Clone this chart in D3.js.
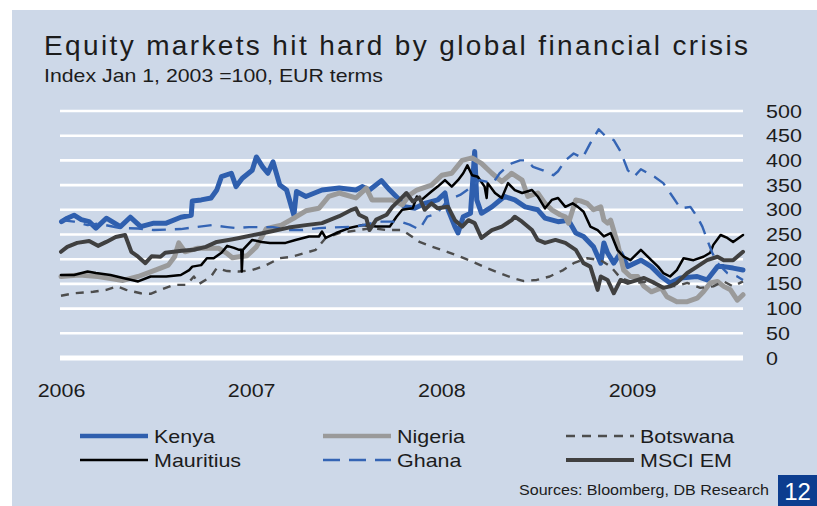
<!DOCTYPE html>
<html><head><meta charset="utf-8">
<script src="https://cdn.jsdelivr.net/npm/d3@7"></script>
<style>
body{margin:0;background:#fff}
svg{display:block}
text{font-family:"Liberation Sans",Arial,Helvetica,sans-serif;fill:#1c1c1c}
</style>
</head><body>
<svg id="chart" width="817" height="506"></svg>
<script>
// ---------------- DATA ----------------
const title = "Equity markets hit hard by global financial crisis";
const subtitle = "Index Jan 1, 2003 =100, EUR terms";
const source = "Sources: Bloomberg, DB Research";
const pageNumber = "12";
const yTicks = [0,50,100,150,200,250,300,350,400,450,500];
const yearLabels = ["2006","2007","2008","2009"];
const seriesNames = ["Kenya","Nigeria","Botswana","Mauritius","Ghana","MSCI EM"];

const kenya = [["2006-01-02",276],["2006-01-13",283],["2006-01-26",289],["2006-02-09",280],["2006-02-24",276],["2006-03-09",263],["2006-03-29",283],["2006-04-25",266],["2006-05-14",285],["2006-06-03",266],["2006-06-28",273],["2006-07-22",273],["2006-08-19",285],["2006-09-08",289],["2006-09-10",318],["2006-09-27",320],["2006-10-16",324],["2006-10-27",340],["2006-11-05",367],["2006-11-24",374],["2006-12-03",347],["2006-12-15",364],["2007-01-03",380],["2007-01-11",407],["2007-01-23",387],["2007-02-02",374],["2007-02-12",397],["2007-02-25",350],["2007-03-10",340],["2007-03-24",289],["2007-03-29",337],["2007-04-16",327],["2007-05-17",340],["2007-06-19",344],["2007-07-21",340],["2007-08-02",347],["2007-08-16",340],["2007-09-08",359],["2007-09-24",340],["2007-10-13",320],["2007-10-22",306],["2007-11-11",303],["2007-11-30",313],["2007-12-25",320],["2008-01-08",334],["2008-01-14",300],["2008-01-27",266],["2008-02-02",253],["2008-02-12",286],["2008-02-26",293],["2008-03-05",418],["2008-03-09",320],["2008-03-18",293],["2008-04-07",306],["2008-05-01",327],["2008-05-21",320],["2008-06-10",306],["2008-07-04",300],["2008-07-18",283],["2008-08-12",276],["2008-09-01",279],["2008-09-15",253],["2008-09-30",246],["2008-10-19",225],["2008-11-02",192],["2008-11-08",233],["2008-11-15",213],["2008-11-27",192],["2008-12-10",213],["2008-12-24",185],["2009-01-18",198],["2009-02-07",185],["2009-02-26",165],["2009-03-15",152],["2009-04-04",162],["2009-05-06",165],["2009-05-25",158],["2009-06-14",185],["2009-06-26",185],["2009-07-14",182],["2009-08-02",178]];

const nigeria = [["2006-01-01",165],["2006-02-05",168],["2006-03-13",165],["2006-04-12",160],["2006-04-30",157],["2006-05-29",165],["2006-07-01",178],["2006-07-26",188],["2006-08-07",205],["2006-08-15",233],["2006-08-27",215],["2006-09-19",222],["2006-10-12",222],["2006-10-31",222],["2006-11-14",213],["2006-11-26",203],["2006-12-09",205],["2006-12-24",207],["2007-01-11",225],["2007-01-30",262],["2007-02-15",266],["2007-02-28",269],["2007-03-27",285],["2007-04-16",298],["2007-05-11",303],["2007-05-30",327],["2007-06-19",334],["2007-07-02",330],["2007-07-21",324],["2007-08-10",344],["2007-08-21",320],["2007-09-04",320],["2007-09-29",320],["2007-10-18",310],["2007-11-01",330],["2007-11-15",340],["2007-12-13",350],["2008-01-02",370],["2008-01-21",374],["2008-02-10",400],["2008-02-29",405],["2008-03-18",394],["2008-04-07",374],["2008-04-26",357],["2008-05-15",374],["2008-06-04",360],["2008-06-15",327],["2008-07-04",334],["2008-07-18",313],["2008-07-31",300],["2008-08-16",290],["2008-08-26",286],["2008-09-01",273],["2008-09-15",320],["2008-09-24",318],["2008-10-07",313],["2008-10-19",300],["2008-11-02",306],["2008-11-08",279],["2008-11-15",273],["2008-11-21",279],["2008-12-04",233],["2008-12-16",178],["2008-12-29",165],["2009-01-12",165],["2009-01-24",145],["2009-02-07",134],["2009-02-26",142],["2009-03-09",124],["2009-03-28",114],["2009-04-17",114],["2009-05-06",121],["2009-05-18",134],["2009-05-31",152],["2009-06-14",155],["2009-06-26",145],["2009-07-09",138],["2009-07-22",117],["2009-08-02",128]];

const botswana = [["2006-01-01",126],["2006-01-26",131],["2006-03-04",134],["2006-03-29",138],["2006-04-18",145],["2006-05-06",138],["2006-06-03",131],["2006-06-22",130],["2006-07-11",138],["2006-08-05",148],["2006-08-30",148],["2006-09-13",165],["2006-09-23",150],["2006-10-16",165],["2006-10-27",182],["2006-11-16",176],["2006-12-09",175],["2007-01-03",178],["2007-01-30",188],["2007-02-25",202],["2007-03-20",205],["2007-04-16",213],["2007-05-05",219],["2007-05-24",243],["2007-06-19",253],["2007-07-27",259],["2007-08-21",263],["2007-09-18",259],["2007-10-18",259],["2007-11-01",249],["2007-11-20",235],["2007-12-15",225],["2008-01-12",215],["2008-02-06",205],["2008-03-01",195],["2008-03-28",182],["2008-04-22",172],["2008-05-17",162],["2008-06-06",156],["2008-07-02",158],["2008-07-27",165],["2008-08-22",178],["2008-09-11",192],["2008-10-07",202],["2008-11-02",198],["2008-11-21",185],["2008-12-10",162],["2009-01-05",152],["2009-01-31",155],["2009-03-02",145],["2009-03-28",146],["2009-04-17",152],["2009-05-12",142],["2009-06-06",145],["2009-06-26",155],["2009-07-14",145],["2009-08-02",155]];

const mauritius = [["2006-01-01",168],["2006-01-26",168],["2006-02-21",175],["2006-03-09",172],["2006-04-06",168],["2006-04-30",162],["2006-05-29",155],["2006-06-22",165],["2006-07-22",165],["2006-08-19",168],["2006-09-04",178],["2006-09-10",185],["2006-09-27",188],["2006-10-08",202],["2006-10-21",202],["2006-11-05",213],["2006-11-16",227],["2006-11-29",223],["2006-12-09",219],["2006-12-13",219],["2006-12-14",175],["2006-12-16",219],["2007-01-03",239],["2007-01-21",235],["2007-02-06",233],["2007-03-08",233],["2007-03-27",239],["2007-04-22",246],["2007-05-11",246],["2007-05-17",256],["2007-05-24",243],["2007-06-13",253],["2007-07-08",263],["2007-08-02",269],["2007-08-29",266],["2007-09-24",266],["2007-10-07",286],["2007-10-18",300],["2007-11-07",303],["2007-11-15",327],["2007-11-24",320],["2007-12-13",337],["2007-12-25",347],["2008-01-08",360],["2008-01-21",347],["2008-02-02",360],["2008-02-12",374],["2008-02-20",390],["2008-02-29",370],["2008-03-11",367],["2008-03-24",347],["2008-03-28",324],["2008-03-30",354],["2008-04-13",334],["2008-04-26",324],["2008-05-08",354],["2008-05-21",340],["2008-06-04",334],["2008-06-23",340],["2008-07-04",327],["2008-07-18",303],["2008-07-31",320],["2008-08-12",324],["2008-08-26",306],["2008-09-09",313],["2008-09-19",306],["2008-09-30",296],["2008-10-13",266],["2008-10-27",259],["2008-11-08",246],["2008-11-21",253],["2008-12-04",219],["2008-12-16",205],["2008-12-29",198],["2009-01-18",219],["2009-02-07",198],["2009-02-20",185],["2009-03-02",172],["2009-03-15",165],["2009-03-28",178],["2009-04-10",202],["2009-04-29",198],["2009-05-18",205],["2009-05-31",213],["2009-06-06",229],["2009-06-20",249],["2009-07-03",243],["2009-07-14",235],["2009-08-02",249]];

const ghana = [["2006-01-01",279],["2006-01-26",276],["2006-02-21",269],["2006-03-13",272],["2006-04-25",263],["2006-05-29",262],["2006-06-28",259],["2006-08-19",261],["2006-10-02",267],["2006-10-18",269],["2006-11-16",265],["2006-12-03",263],["2006-12-28",265],["2007-01-17",265],["2007-02-12",265],["2007-03-14",259],["2007-04-09",259],["2007-05-11",263],["2007-06-25",265],["2007-07-21",266],["2007-09-04",276],["2007-09-29",276],["2007-10-18",275],["2007-11-01",270],["2007-11-20",260],["2007-12-05",286],["2007-12-23",292],["2008-01-14",320],["2008-02-06",330],["2008-02-26",345],["2008-03-14",360],["2008-04-09",354],["2008-04-22",374],["2008-05-06",387],["2008-05-15",394],["2008-05-31",400],["2008-06-13",400],["2008-06-25",387],["2008-07-14",380],["2008-08-03",370],["2008-08-12",378],["2008-08-26",400],["2008-09-11",414],["2008-09-28",405],["2008-10-13",435],["2008-10-29",463],["2008-11-12",448],["2008-11-27",441],["2008-12-10",418],["2008-12-24",380],["2009-01-05",367],["2009-01-18",382],["2009-02-13",367],["2009-03-02",354],["2009-03-21",325],["2009-04-04",303],["2009-04-23",306],["2009-05-06",286],["2009-05-16",266],["2009-05-25",240],["2009-06-04",213],["2009-06-14",192],["2009-07-03",172],["2009-07-22",165],["2009-08-02",158]];

const msciEM = [["2006-01-01",215],["2006-01-13",225],["2006-02-01",233],["2006-02-24",237],["2006-03-13",227],["2006-03-29",235],["2006-04-16",245],["2006-05-04",249],["2006-05-16",215],["2006-05-29",205],["2006-06-12",192],["2006-06-24",206],["2006-07-11",205],["2006-07-20",213],["2006-08-05",215],["2006-08-21",217],["2006-09-13",219],["2006-10-06",225],["2006-10-27",235],["2006-11-24",240],["2006-12-09",243],["2007-01-11",250],["2007-02-12",257],["2007-03-14",264],["2007-04-16",269],["2007-05-17",273],["2007-06-19",287],["2007-07-13",300],["2007-07-21",303],["2007-07-27",290],["2007-08-10",283],["2007-08-16",259],["2007-08-29",280],["2007-09-18",290],["2007-09-29",306],["2007-10-13",320],["2007-10-26",334],["2007-11-07",317],["2007-11-20",325],["2007-11-30",300],["2007-12-13",313],["2007-12-25",303],["2008-01-14",306],["2008-01-27",279],["2008-02-10",266],["2008-02-22",279],["2008-03-05",273],["2008-03-18",243],["2008-04-07",259],["2008-04-26",266],["2008-05-15",279],["2008-05-21",286],["2008-06-04",276],["2008-06-23",259],["2008-07-04",239],["2008-07-18",233],["2008-08-07",239],["2008-08-26",233],["2008-09-15",219],["2008-09-30",192],["2008-10-13",185],["2008-10-27",138],["2008-11-02",165],["2008-11-15",158],["2008-11-27",131],["2008-12-10",158],["2008-12-24",152],["2009-01-12",158],["2009-01-24",162],["2009-02-13",152],["2009-03-02",142],["2009-03-15",145],["2009-03-28",152],["2009-04-17",172],["2009-05-06",185],["2009-05-25",198],["2009-06-14",205],["2009-06-26",198],["2009-07-14",198],["2009-08-02",215]];

// ---------------- STYLES ----------------
const seriesData = {"Kenya":kenya,"Nigeria":nigeria,"Botswana":botswana,"Mauritius":mauritius,"Ghana":ghana,"MSCI EM":msciEM};
const styles = {
  "Kenya":    {color:"#2f5fae", width:5,   dash:null},
  "Nigeria":  {color:"#9a9a9a", width:5,   dash:null},
  "Botswana": {color:"#4d4d4d", width:2.4, dash:"8,7"},
  "Mauritius":{color:"#000000", width:2.5, dash:null},
  "Ghana":    {color:"#3464b4", width:2.4, dash:"14,9"},
  "MSCI EM":  {color:"#404040", width:4,   dash:null}
};
const legendDash = {"Botswana":"9,7","Ghana":"17,9"};

// ---------------- DRAW ----------------
const W = 817, H = 506, STRETCH = 1.13;
const svg = d3.select("#chart");
const parse = d3.timeParse("%Y-%m-%d");

function stretch(sel, f){
  sel.each(function(){
    const L = this.getComputedTextLength();
    this.setAttribute("textLength", L*f);
    this.setAttribute("lengthAdjust","spacingAndGlyphs");
  });
}

svg.append("rect").attr("x",12).attr("y",10).attr("width",W-12).attr("height",H-10).attr("fill","#cdd8e8");

const x = d3.scaleTime().domain([parse("2006-01-01"), parse("2009-08-02")]).range([61,743]);
const y = d3.scaleLinear().domain([0,500]).range([358,111]);

// gridlines
svg.append("g").selectAll("line").data(yTicks).join("line")
  .attr("x1",60).attr("x2",743)
  .attr("y1",d=>y(d)).attr("y2",d=>y(d))
  .attr("stroke","#ffffff").attr("stroke-width",d=>d===0?5:2.6);

// y axis labels (right)
const yAxis = svg.append("g").attr("transform","translate(766,0)")
  .call(d3.axisRight(y).tickValues(yTicks).tickSize(0).tickPadding(0).tickFormat(d3.format("d")));
yAxis.select(".domain").remove();
yAxis.selectAll("text").attr("font-size",19).attr("fill","#1c1c1c")
  .style("font-family",'"Liberation Sans",Arial,sans-serif');
stretch(yAxis.selectAll("text"), STRETCH);

// x axis labels
const xAxis = svg.append("g").attr("transform","translate(0,383)")
  .call(d3.axisBottom(x).tickValues(yearLabels.map(s=>parse(s+"-01-01"))).tickSize(0).tickPadding(0).tickFormat(d3.timeFormat("%Y")));
xAxis.select(".domain").remove();
xAxis.selectAll("text").attr("font-size",19).attr("fill","#1c1c1c")
  .style("font-family",'"Liberation Sans",Arial,sans-serif');
stretch(xAxis.selectAll("text"), STRETCH);

// lines
const line = d3.line().x(d=>x(parse(d[0]))).y(d=>y(d[1]));
const lines = svg.append("g");
seriesNames.forEach(name=>{
  const s = styles[name];
  lines.append("path").datum(seriesData[name])
    .attr("d",line).attr("fill","none")
    .attr("stroke",s.color).attr("stroke-width",s.width)
    .attr("stroke-linejoin","round").attr("stroke-linecap", s.dash ? "butt" : "round")
    .attr("stroke-dasharray",s.dash);
});

// title & subtitle
svg.append("text").attr("x",44).attr("y",55).attr("font-size",28)
  .attr("textLength",704).attr("lengthAdjust","spacing").attr("fill","#222").text(title);
svg.append("text").attr("x",44).attr("y",81.5).attr("font-size",19)
  .attr("textLength",339).attr("lengthAdjust","spacingAndGlyphs").attr("fill","#111").text(subtitle);

// legend
const legCols = [80,323,566], legRows = [436,460], legLen = 68;
const leg = svg.append("g");
seriesNames.forEach((name,i)=>{
  const col = i%3, row = Math.floor(i/3);
  const lx = legCols[col], ly = legRows[row];
  const s = styles[name];
  leg.append("line").attr("x1",lx).attr("x2",lx+legLen).attr("y1",ly).attr("y2",ly)
    .attr("stroke",s.color).attr("stroke-width",Math.min(s.width,4.5))
    .attr("stroke-dasharray",legendDash[name]||null);
  const t = leg.append("text").attr("x",lx+legLen+6).attr("y",ly+7).attr("font-size",19).attr("fill","#111").text(name);
  stretch(t, STRETCH);
});

// source & page number
svg.append("text").attr("x",519).attr("y",495).attr("font-size",15)
  .attr("textLength",250).attr("lengthAdjust","spacingAndGlyphs").attr("fill","#111").text(source);
svg.append("rect").attr("x",778).attr("y",475).attr("width",39).attr("height",31).attr("fill","#0c3d8f");
svg.append("text").attr("x",797.5).attr("y",500).attr("font-size",24).attr("text-anchor","middle")
  .style("fill","#ffffff").text(pageNumber);
</script>
</body></html>
